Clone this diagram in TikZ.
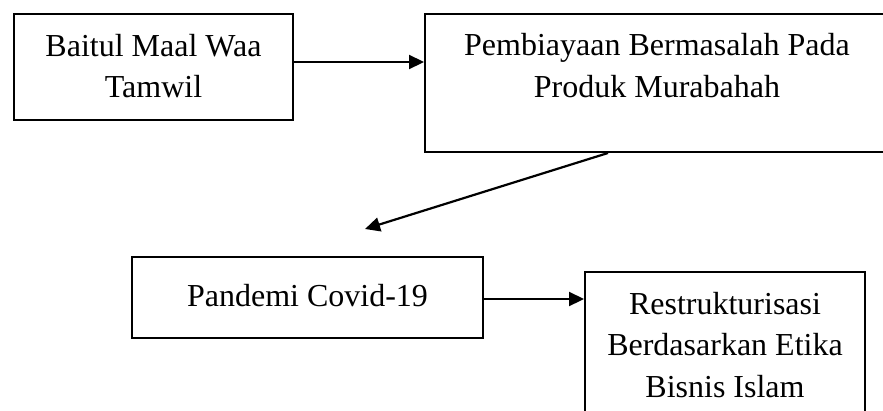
\documentclass[tikz,border=0pt]{standalone}
\usepackage{fontspec}
\setmainfont{Liberation Serif}
\usetikzlibrary{arrows.meta}
\begin{document}
\begin{tikzpicture}[x=1pt,y=-1pt,
  box/.style={draw=black,line width=2pt,inner sep=0pt},
  txt/.style={inner sep=0pt,anchor=base,font=\fontsize{32}{42}\selectfont},
  arr/.style={line width=2.2pt,-{Triangle[length=15pt,width=14pt]}}]
\useasboundingbox (0,0) rectangle (883,410);
\fill[white] (0,0) rectangle (883,410);
% boxes
\node[box,minimum width=279pt,minimum height=106pt] (b1) at (153.5,67) {};
\node[box,minimum width=464pt,minimum height=138pt] (b2) at (657,83) {};
\node[box,minimum width=351pt,minimum height=81pt] (b3) at (307.5,297.5) {};
\node[box,minimum width=280pt,minimum height=170pt] (b4) at (725,357) {};
% texts
\node[txt] (t1a) at (153.5,56) {Baitul Maal Waa};
\node[txt] (t1b) at (153.5,97) {Tamwil};
\node[txt] (t2a) at (657,55) {Pembiayaan Bermasalah Pada};
\node[txt] (t2b) at (657,97) {Produk Murabahah};
\node[txt] (t3) at (307.5,306) {Pandemi Covid-19};
\node[txt] (t4a) at (725,314) {Restrukturisasi};
\node[txt] (t4b) at (725,355) {Berdasarkan Etika};
\node[txt] (t4c) at (725,397) {Bisnis Islam};
% connectors
\coordinate (tip) at (365,229);
\draw[arr] ([yshift=5pt]b1.east) -- ([yshift=5pt]b1.east -| b2.west);
\draw[arr] ([xshift=-49pt]b2.south) -- (tip);
\draw[arr] ([yshift=-1.5pt]b3.east) -- ([yshift=-1.5pt]b3.east -| b4.west);
\end{tikzpicture}
\end{document}
